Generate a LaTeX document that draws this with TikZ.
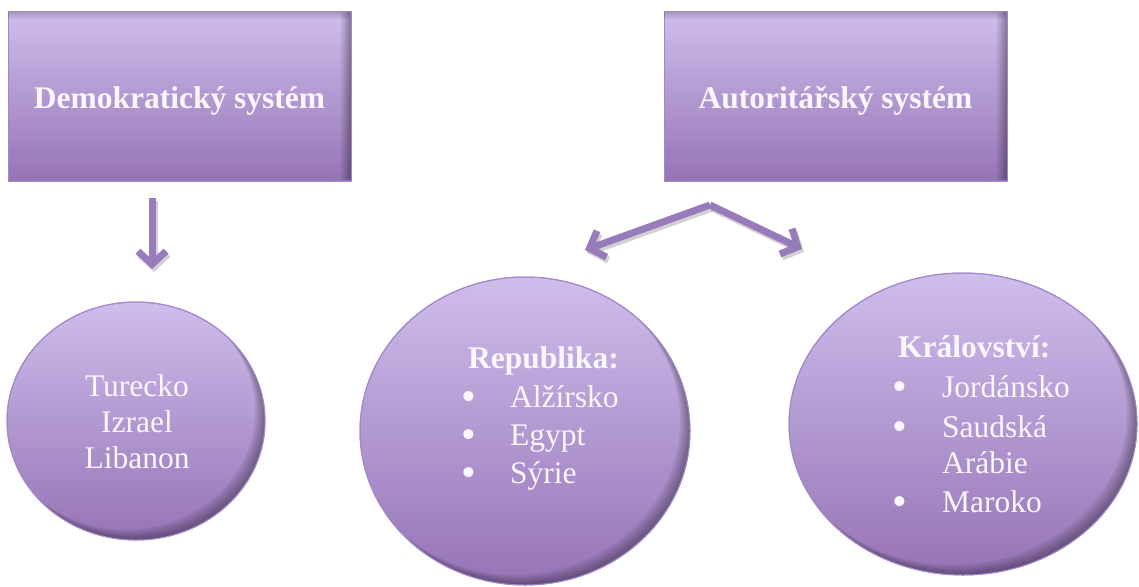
\documentclass[tikz,border=0pt]{standalone}
\usepackage{fontspec}
\setmainfont{Liberation Serif}
\usetikzlibrary{shapes.geometric,arrows.meta,fadings}
\definecolor{ltop}{HTML}{CFBDEC}
\definecolor{lbot}{HTML}{9674B6}
\definecolor{lborder}{HTML}{A089C8}
\definecolor{arrowc}{HTML}{977BBB}
\definecolor{txt}{HTML}{F9F7FC}
\begin{document}
\begin{tikzpicture}[x=1pt,y=-1pt,
  box/.style={rectangle, draw=lborder, line width=1pt, top color=ltop, bottom color=lbot,
    minimum width=343pt, minimum height=169pt, inner sep=0pt},
  oval/.style={ellipse, draw=lborder, line width=1pt, top color=ltop, bottom color=lbot, inner sep=0pt},
  title/.style={text=txt, font=\fontsize{31.5}{36}\selectfont\bfseries, inner sep=0pt},
  txtr/.style={text=txt, font=\fontsize{31.5}{36}\selectfont, inner sep=0pt},
  txtb/.style={text=txt, font=\fontsize{31.5}{36}\selectfont\bfseries, inner sep=0pt},
  bul/.style={text=txt, font=\fontsize{42}{36}\selectfont, inner sep=0pt},
  arrtip/.style={-{Straight Barb[length=13pt,width=28pt]}},
  arr/.style={draw=arrowc, line width=7pt, arrtip},
  arrsh/.style={draw=black!45, opacity=0.4, line width=7pt, arrtip},
  rimshade/.style={black, opacity=0.07, even odd rule}]
\useasboundingbox (0,0) rectangle (1139,586);

% boxes
\node[box] (b1) at (179.5,96.5) {};
\node[box] (b2) at (835.5,96.5) {};
\foreach \bx in {b1,b2}{
  \fill[black, opacity=0.35, path fading=west] ([xshift=-12pt,yshift=-1pt]\bx.north east) rectangle ([xshift=-1pt,yshift=1pt]\bx.south east);
  \fill[black, opacity=0.18, path fading=south] ([xshift=1pt,yshift=-1pt]\bx.north west) rectangle ([xshift=-1pt,yshift=-8pt]\bx.north east);
}
\node[title, anchor=base] (t1) at (179.5,108) {Demokratický systém};
\node[title, anchor=base] (t2) at (835.5,108) {Autoritářský systém};

% ovals
\node[oval, minimum width=258pt, minimum height=238pt] (c1) at (136,421) {};
\node[oval, minimum width=330pt, minimum height=308pt] (c2) at (525,431) {};
\node[oval, minimum width=348pt, minimum height=302pt] (c3) at (963,424) {};
\foreach \c/\rx/\ry in {c1/129/119, c2/165/154, c3/174/151}{
  \begin{scope}
    \clip (\c.center) ellipse [x radius=\rx, y radius=\ry];
    \foreach \d in {2,4,6,8,10}
      \fill[rimshade] (\c.center) ellipse [x radius=\rx+30, y radius=\ry+30]
        ([shift={(-\d,-\d)}]\c.center) ellipse [x radius=\rx, y radius=\ry];
  \end{scope}
  \draw[lborder, line width=1pt] (\c.center) ellipse [x radius=\rx, y radius=\ry];
}

% arrows
\coordinate (a1s) at (152,198);
\coordinate (a1e) at (152,269);
\coordinate (apex) at (710,205);
\coordinate (a2e) at (585,250);
\coordinate (a3e) at (802,249);
\draw[arrsh] ([shift={(2,3)}]a1s) -- ([shift={(2,3)}]a1e);
\draw[arrsh] ([shift={(2,3)}]apex) -- ([shift={(2,3)}]a2e);
\draw[arrsh] ([shift={(2,3)}]apex) -- ([shift={(2,3)}]a3e);
\draw[arr] (a1s) -- (a1e);
\draw[arr] (apex) -- (a2e);
\draw[arr] (apex) -- (a3e);

% left circle text
\node[txtr, anchor=base] (l1) at (137,396) {Turecko};
\node[txtr, anchor=base] (l2) at (137,432) {Izrael};
\node[txtr, anchor=base] (l3) at (137,468) {Libanon};

% middle ellipse text
\node[txtb, anchor=base west] (m0) at (468,368) {Republika:};
\node[bul, anchor=base] (mb1) at (469,410) {•};
\node[bul, anchor=base] (mb2) at (469,448) {•};
\node[bul, anchor=base] (mb3) at (469,486) {•};
\node[txtr, anchor=base west] (m1) at (510,407) {Alžírsko};
\node[txtr, anchor=base west] (m2) at (510,445) {Egypt};
\node[txtr, anchor=base west] (m3) at (510,483) {Sýrie};

% right ellipse text
\node[txtb, anchor=base west] (r0) at (898,357) {Království:};
\node[bul, anchor=base] (rb1) at (900,400) {•};
\node[bul, anchor=base] (rb2) at (900,440) {•};
\node[bul, anchor=base] (rb3) at (900,515) {•};
\node[txtr, anchor=base west] (r1) at (942,397) {Jordánsko};
\node[txtr, anchor=base west] (r2) at (942,437) {Saudská};
\node[txtr, anchor=base west] (r3) at (942,473) {Arábie};
\node[txtr, anchor=base west] (r4) at (942,512) {Maroko};
\end{tikzpicture}
\end{document}
